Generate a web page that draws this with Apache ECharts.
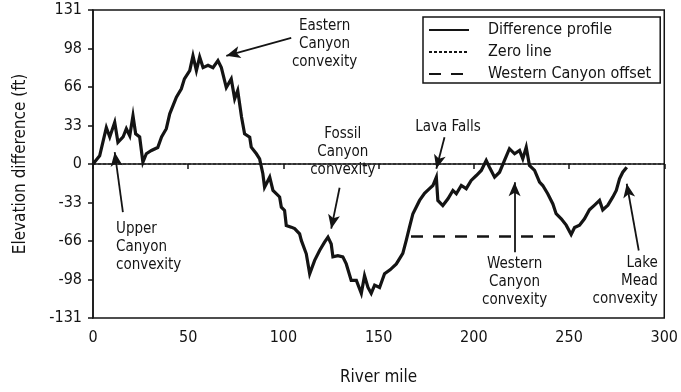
<!DOCTYPE html>
<html>
<head>
<meta charset="utf-8">
<script src="https://cdn.jsdelivr.net/npm/echarts@6/dist/echarts.min.js"></script>
<style>
html,body{margin:0;padding:0;background:#fff;}
#chart{width:681px;height:392px;}
</style>
</head>
<body>
<div id="chart"></div>
<script>
// ---- data ----
var riverMile = [0,3.5,7,8.8,11.4,13.1,15.8,17.5,19.3,21,22.4,24.5,26.2,28,30.7,34,36,38.5,40.3,43.8,46.4,48,50.8,52.5,54.3,56,57.8,60.4,63,65.6,67.4,70,72.6,74.4,76,78,79.6,82.3,83.1,85.8,87.5,89.2,90.1,92.8,94.5,98,98.9,100.6,101.5,104.1,105.9,108.5,109.4,112,113.8,116.4,119,121.6,123.4,125.1,126,128.6,131.2,133,135.6,138.3,140.9,142.6,144.4,146.1,147.9,150.5,153.1,156,159.3,162.7,164.5,166.2,168,171.5,174.1,176.7,178.5,180.3,181.1,183.7,186.4,189,190.8,193.4,196,198.6,201.3,203.9,206.5,208.2,210.9,213.5,216.1,218.7,221.4,224,225.7,227.5,229.2,231.9,234.5,236.2,238.8,241.5,243.2,245.9,248.5,251.1,252.9,255.5,258.1,260.7,263.4,266,267.7,270.4,273,274.8,276.5,278.2,280.3];
var elevDiff = [0,7,31,23,35.5,18.5,23,30,24,41,25.7,23,1.5,8.7,11.5,14,23,30,42.7,56.8,64,72.4,79.5,92,79.5,91,82,84,82,88,82,65,72.4,55.4,62.5,40,25.7,22.8,14.3,8.7,4.4,-8.3,-19.7,-11.2,-22.5,-28,-36.7,-39.5,-52.3,-53.7,-55,-59.4,-65,-76.4,-93.4,-82,-73.6,-66.5,-62.2,-68,-79,-78,-79,-85,-99,-99,-110,-95,-105,-110,-103,-105,-93.4,-90,-85,-76,-65,-53.7,-42.3,-31,-25,-21,-18.3,-11.2,-31,-35.3,-29.6,-22.5,-25.3,-18.3,-21,-14,-9.8,-5.5,3,-2.7,-11.2,-7,3,13,8.7,11.5,4.4,14.3,-1.3,-5.5,-15.5,-18.3,-25.3,-34,-42.3,-46.6,-52,-60,-54,-52,-46.6,-39,-35,-31,-39,-35,-28,-22.5,-12.6,-7,-2.7];

var zeroLineMiles = [0, 300];
var zeroLineValues = [0, 0];
var offsetMiles = [167, 243.3];
var offsetValues = [-61.6, -61.6];

var xTicks = [0, 50, 100, 150, 200, 250, 300];
var yTickLabels = ['-131','-98','-66','-33','0','33','66','98','131'];

var annoText = ['Eastern\nCanyon\nconvexity','Upper\nCanyon\nconvexity','Fossil\nCanyon\nconvexity','Lava Falls','Western\nCanyon\nconvexity','Lake\nMead\nconvexity'];
var annoX = [121.6, 12.1, 131.2, 186.4, 221.4, 296.6];
var annoY = [101.7, -70.7, 10, 31.3, -100.5, -99.7];
var annoAlign = ['center','left','center','center','center','right'];

// arrows: [tailMile, tailVal, tipMile, tipVal]
var arrowTail = [[104.1,107.3],[15.7,-41],[129.5,-20.2],[184.6,22.8],[221.4,-75],[286.6,-73.6]];
var arrowTip  = [[70,92],[11.4,10],[125.1,-55],[180.3,-4.1],[221.4,-15.5],[280.3,-16.8]];

// ---- build ----
var FONT = '"Liberation Sans Narrow","DejaVu Sans Condensed","Arial Narrow",sans-serif';
var INK = '#141414';
function zip(a,b){return a.map(function(v,i){return [v,b[i]];});}

var annoData = annoText.map(function(t,i){
  return {value:[annoX[i],annoY[i]], label:{formatter:t, align:annoAlign[i]}};
});
var arrowData = arrowTail.map(function(t,i){
  return [{coord:t},{coord:arrowTip[i]}];
});

var chart = echarts.init(document.getElementById('chart'), null, {renderer:'canvas'});
chart.setOption({
  animation:false,
  textStyle:{fontFamily:FONT, color:INK},
  grid:{left:93, right:16, top:10, bottom:74, show:true, borderColor:INK, borderWidth:1.5, backgroundColor:'transparent'},
  legend:{
    orient:'vertical', left:423, top:17,
    itemWidth:40, itemHeight:14, itemGap:6,
    padding:[5,9,1,5],
    borderColor:INK, borderWidth:1.5,
    itemStyle:{opacity:0},
    textStyle:{fontSize:16, lineHeight:15, fontFamily:FONT, color:INK, padding:[0,0,0,14]},
    data:['Difference profile','Zero line','Western Canyon offset']
  },
  xAxis:{
    type:'value', min:0, max:300, interval:50,
    name:'River mile', nameLocation:'middle', nameGap:51,
    nameTextStyle:{fontSize:17, fontFamily:FONT, color:INK},
    axisLine:{show:true, lineStyle:{color:INK, width:1.5}},
    axisTick:{show:true, length:5, lineStyle:{color:INK, width:1.5}},
    splitLine:{show:false},
    axisLabel:{fontSize:16, fontFamily:FONT, color:INK, margin:12,
      formatter:function(v){return xTicks.indexOf(v)>=0 ? String(v) : '';}}
  },
  yAxis:{
    type:'value', min:-131, max:131, interval:32.75,
    name:'Elevation difference (ft)', nameLocation:'middle', nameGap:64, nameRotate:90,
    nameTextStyle:{fontSize:17, fontFamily:FONT, color:INK},
    axisLine:{show:true, lineStyle:{color:INK, width:1.5}},
    axisTick:{show:true, length:5, lineStyle:{color:INK, width:1.5}},
    splitLine:{show:false},
    axisLabel:{fontSize:16, fontFamily:FONT, color:INK, margin:11,
      formatter:function(v){var i=Math.round((v+131)/32.75); return yTickLabels[i]||'';}}
  },
  series:[
    {name:'Zero line', type:'line', data:zip(zeroLineMiles, zeroLineValues), symbol:'none', showSymbol:false,
     itemStyle:{color:INK}, lineStyle:{color:INK, width:1, type:[3,2]}, z:2},
    {name:'Difference profile', type:'line', data:zip(riverMile, elevDiff), symbol:'none', showSymbol:false,
     itemStyle:{color:INK}, lineStyle:{color:INK, width:3.2, join:'miter'}, z:3},
    {name:'Western Canyon offset', type:'line', data:zip(offsetMiles, offsetValues), symbol:'none', showSymbol:false,
     itemStyle:{color:INK}, lineStyle:{color:INK, width:2.5, type:[12,10]}, z:3},
    {name:'annotations', type:'scatter', data:annoData, symbolSize:0, z:5, silent:true,
     itemStyle:{color:INK, opacity:1},
     label:{show:true, position:'inside', fontSize:15, lineHeight:18, fontFamily:FONT, color:INK, opacity:1,
       textBorderWidth:0, textBorderColor:'transparent', verticalAlign:'middle'},
     markLine:{silent:true, symbol:['none','arrow'], symbolSize:[9,14], precision:3,
       lineStyle:{color:INK, width:1.8, type:'solid', opacity:1}, label:{show:false}, emphasis:{disabled:true},
       data:arrowData}
    }
  ]
});
</script>
</body>
</html>
